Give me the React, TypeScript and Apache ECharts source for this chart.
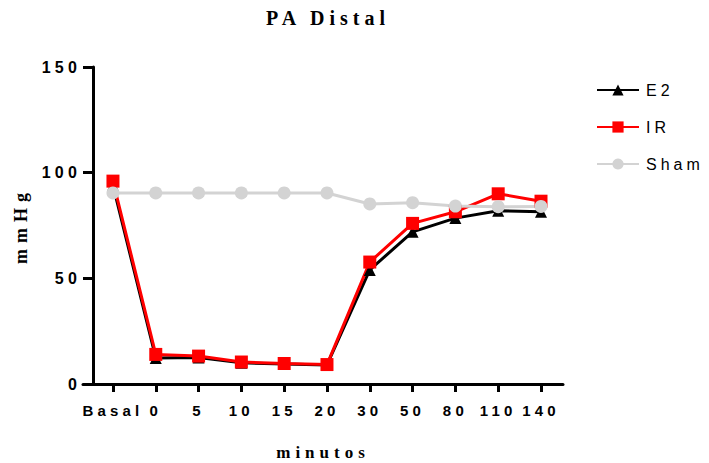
import React, { useEffect, useRef } from "react";
import * as echarts from "echarts";

const categories = ["Basal", "0", "5", "10", "15", "20", "30", "50", "80", "110", "140"];
const e2Values = [94, 12.3, 12.5, 10, 9.5, 9, 54, 72, 78.5, 82, 81.5];
const irValues = [96, 14, 13.2, 10.4, 9.7, 9.2, 57.7, 76, 81.5, 90, 86.5];
const shamValues = [90.4, 90.4, 90.4, 90.4, 90.4, 90.4, 85.2, 85.8, 84.2, 83.9, 84];
const seriesNames = ["E2", "IR", "Sham"];
const yTicks = [0, 50, 100, 150];
const titleText = "PA Distal";
const xName = "minutos";
const yName = "mmHg";

const toPairs = (vals: number[]) => vals.map((v, i) => [i, v]);

export default function App() {
  const ref = useRef<HTMLDivElement>(null);
  useEffect(() => {
    if (!ref.current) return;
    const el = ref.current;
    const chart = echarts.init(el, undefined, { renderer: "svg" });
    const sans = "Liberation Sans, Arial, sans-serif";
    const serif = "Liberation Serif, Times New Roman, serif";

    const spacing: Record<string, number> = {};
    categories.forEach((c) => (spacing[c] = 4.2));
    yTicks.forEach((t) => (spacing[String(t)] = 4.2));
    seriesNames.forEach((s) => (spacing[s] = 4));
    spacing[titleText] = 5;
    spacing[xName] = 5;
    spacing[yName] = 6;

    const applySpacing = () => {
      el.querySelectorAll("text").forEach((t) => {
        const s = spacing[(t.textContent || "").trim()];
        if (s !== undefined) t.setAttribute("letter-spacing", String(s));
      });
    };

    chart.setOption({
      animation: false,
      backgroundColor: "#ffffff",
      title: {
        text: titleText,
        left: 266,
        top: 8,
        padding: 0,
        textStyle: { fontFamily: serif, fontWeight: "bold", fontSize: 20, color: "#000" },
      },
      legend: {
        orient: "vertical",
        left: 596,
        top: 82,
        padding: 0,
        itemWidth: 42,
        itemHeight: 14,
        itemGap: 21,
        textStyle: { fontFamily: sans, fontSize: 16, color: "#000", padding: [0, 0, 0, 2] },
        data: seriesNames,
      },
      grid: { left: 83, right: 146, top: 67, bottom: 79, containLabel: false, outerBoundsMode: "none" },
      xAxis: {
        type: "value",
        min: -0.7,
        max: 10.514,
        name: xName,
        nameLocation: "middle",
        nameGap: 60,
        nameTextStyle: { fontFamily: serif, fontWeight: "bold", fontSize: 17, color: "#000", lineHeight: 17 },
        axisLine: { show: true, onZero: false, lineStyle: { color: "#000", width: 3 } },
        axisTick: {
          show: true,
          length: 8,
          lineStyle: { color: "#000", width: 3 },
          customValues: categories.map((_, i) => i),
        },
        axisLabel: {
          customValues: categories.map((_, i) => i),
          formatter: (v: number) => categories[Math.round(v)] ?? "",
          fontFamily: sans,
          fontWeight: "bold",
          fontSize: 15,
          color: "#000",
          margin: 19,
        },
        splitLine: { show: false },
      },
      yAxis: {
        type: "value",
        min: 0,
        max: 150,
        interval: 50,
        offset: -10,
        name: yName,
        nameLocation: "middle",
        nameGap: 63,
        nameTextStyle: { fontFamily: serif, fontWeight: "bold", fontSize: 18, color: "#000" },
        axisLine: { show: true, onZero: false, lineStyle: { color: "#000", width: 3 } },
        axisTick: { show: true, length: 10, lineStyle: { color: "#000", width: 3 } },
        axisLabel: {
          fontFamily: sans,
          fontWeight: "bold",
          fontSize: 16,
          color: "#000",
          margin: 12,
          formatter: (v: number) => (yTicks.includes(v) ? String(v) : ""),
        },
        splitLine: { show: false },
      },
      series: [
        {
          name: seriesNames[0],
          type: "line",
          data: toPairs(e2Values),
          symbol: "triangle",
          symbolSize: 12,
          lineStyle: { color: "#000", width: 3 },
          itemStyle: { color: "#000" },
        },
        {
          name: seriesNames[1],
          type: "line",
          data: toPairs(irValues),
          symbol: "rect",
          symbolSize: 13,
          lineStyle: { color: "#ff0000", width: 3 },
          itemStyle: { color: "#ff0000" },
        },
        {
          name: seriesNames[2],
          type: "line",
          data: toPairs(shamValues),
          symbol: "circle",
          symbolSize: 13,
          lineStyle: { color: "#d3d3d3", width: 3 },
          itemStyle: { color: "#d3d3d3" },
        },
      ],
    });
    chart.on("rendered", applySpacing);
    applySpacing();
    const raf = requestAnimationFrame(applySpacing);
    const tm = setTimeout(applySpacing, 50);
    return () => {
      cancelAnimationFrame(raf);
      clearTimeout(tm);
      chart.dispose();
    };
  }, []);
  return (
    <div
      ref={ref}
      style={{ position: "absolute", left: 0, top: 0, width: 709, height: 463 }}
    />
  );
}
